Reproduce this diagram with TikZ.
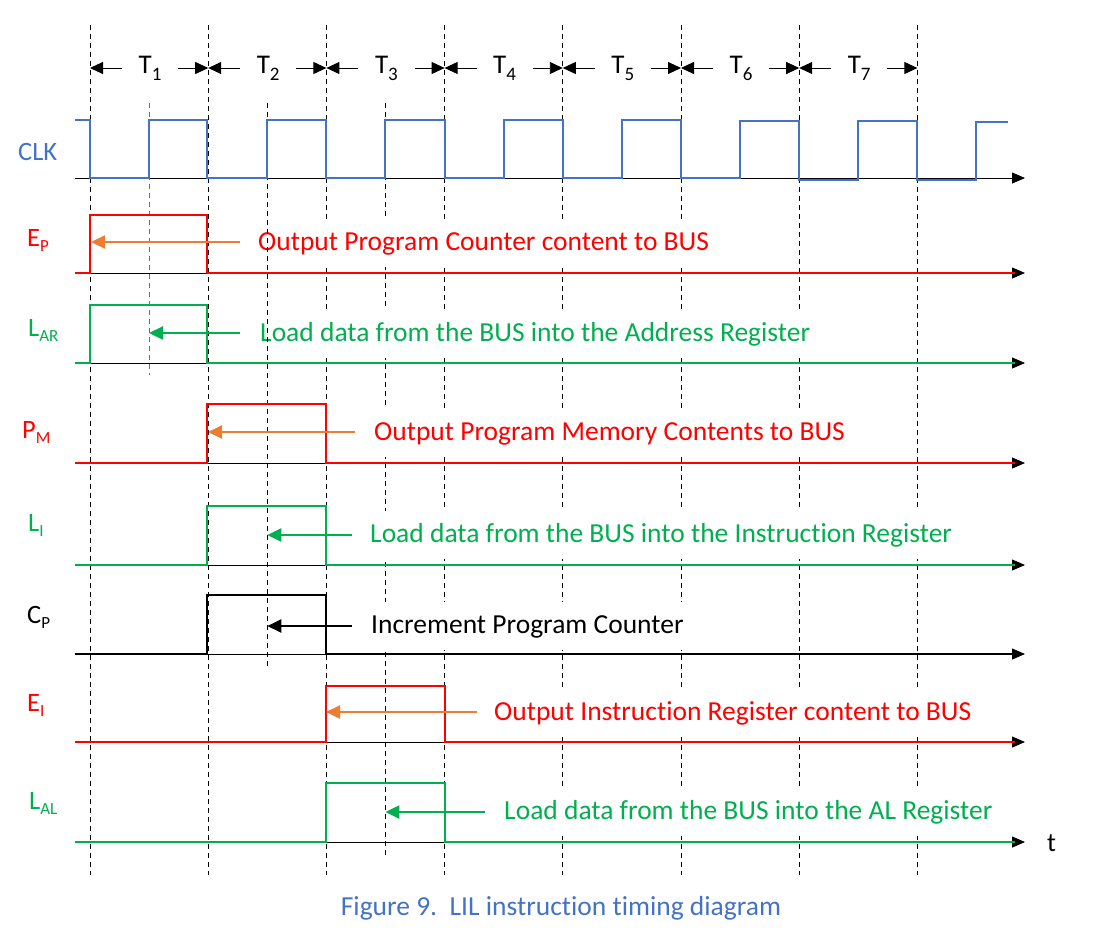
\documentclass[tikz,border=0pt]{standalone}
\usepackage{fontspec}
\setmainfont{Carlito}[Ligatures=NoCommon]
\usetikzlibrary{arrows.meta}
\definecolor{cblue}{HTML}{4472C4}
\definecolor{cred}{HTML}{FF0000}
\definecolor{cgreen}{HTML}{00B050}
\definecolor{corange}{HTML}{ED7D31}
\newcommand\sub[1]{\raisebox{-5pt}{\fontsize{17}{17}\selectfont #1}}
\newcommand\tsub[1]{\raisebox{-7pt}{\fontsize{19}{19}\selectfont #1}}
\begin{document}
\begin{tikzpicture}[x=1pt,y=-1pt,
  sig/.style={line width=2pt, line join=miter},
  axisline/.style={line width=0.8pt, -{Triangle[length=13pt,width=11pt]}},
  gridline/.style={line width=0.8pt, dash pattern=on 5pt off 4pt},
  ptr/.style={line width=2.2pt, -{Triangle[length=14pt,width=13pt]}},
  dim/.style={line width=0.9pt, -{Triangle[length=13pt,width=12pt]}},
  txt/.style={anchor=west, fill=white, inner xsep=1pt, inner ysep=11pt, text height=20pt, text depth=6pt, font=\fontsize{27.5}{32}\selectfont},
  lbl/.style={anchor=west, inner sep=0pt, font=\fontsize{26.5}{30}\selectfont},
  tl/.style={inner sep=0pt, font=\fontsize{27}{30}\selectfont}]
\useasboundingbox (0,0) rectangle (1105,938);

% main vertical dashed lines
\foreach \i in {0,...,7}{
  \draw[gridline] ({90+118.2*\i},25) -- ({90+118.2*\i},875);
}
% mid-period dashed lines
\draw[gridline, cblue, line width=1pt] (149,103) -- (149,375);
\draw[gridline] (385.4,103) -- (385.4,855);

% message texts (white background hides the dashed lines)
\node[txt, text=cred] (tep) at (257,243) {Output Program Counter content to BUS};
\node[txt, text=cgreen] (tar) at (259,334) {Load data from the BUS into the Address Register};
\node[txt, text=cred] (tpm) at (373,433) {Output Program Memory Contents to BUS};
\node[txt, text=cgreen] (tli) at (369,535) {Load data from the BUS into the Instruction Register};
\node[txt, text=black] (tcp) at (370,626) {Increment Program Counter};
\node[txt, text=cred] (tei) at (493,713) {Output Instruction Register content to BUS};
\node[txt, text=cgreen] (tal) at (503,812) {Load data from the BUS into the AL Register};

\draw[gridline] (267.3,103) -- (267.3,668);

% period markers
\foreach \i in {1,...,7}{
  \pgfmathsetmacro\xa{90+118.2*(\i-1)}
  \pgfmathsetmacro\xb{90+118.2*\i}
  \coordinate (pa\i) at (\xa,68);
  \coordinate (pb\i) at (\xb,68);
  \draw[dim] ([xshift=32pt]pa\i) -- (pa\i);
  \draw[dim] ([xshift=-30pt]pb\i) -- (pb\i);
  \node[tl] (T\i) at ([xshift=60pt]pa\i) {T\tsub{\i}};
}

% axes
\foreach \y in {178,273,363,463,565,654,742,842}{
  \draw[axisline] (75,\y) -- (1025,\y);
}

% CLK
\node[lbl, text=cblue] (lclk) at (18,152) {CLK};
\draw[sig, cblue] (75,120) -- (90,120) -- (90,178) -- (149,178) -- (149,120) -- (207.4,120) -- (207.4,178)
  -- (267.3,178) -- (267.3,120) -- (325.6,120) -- (325.6,178) -- (385.4,178) -- (385.4,120) -- (444.5,120) -- (444.5,178)
  -- (503.6,178) -- (503.6,120) -- (562.8,120) -- (562.8,178) -- (621.7,178) -- (621.7,120) -- (681,120) -- (681,178)
  -- (739.9,178) -- (739.9,121) -- (799.2,121) -- (799.2,180) -- (858,180) -- (858,121) -- (917.4,121) -- (917.4,180)
  -- (976.2,180) -- (976.2,122) -- (1008,122);

% E_P
\node[lbl, text=cred] (lep) at (27,240) {E\sub{P}};
\draw[sig, cred] (75,273) -- (90,273) -- (90,215) -- (207.4,215) -- (207.4,273) -- (1015,273);
\coordinate (aep) at (240,242); \coordinate (bep) at (91,242);
\draw[ptr, corange] (aep) -- (bep);

% L_AR
\node[lbl, text=cgreen] (lar) at (28,330) {L\sub{AR}};
\draw[sig, cgreen] (75,363) -- (90,363) -- (90,305) -- (207.4,305) -- (207.4,363) -- (1015,363);
\coordinate (aar) at (240,333); \coordinate (bar) at (149,333);
\draw[ptr, cgreen] (aar) -- (bar);

% P_M
\node[lbl, text=cred] (lpm) at (22,432) {P\sub{M}};
\draw[sig, cred] (75,463) -- (207.4,463) -- (207.4,404) -- (325.6,404) -- (325.6,463) -- (1015,463);
\coordinate (apm) at (355,432); \coordinate (bpm) at (208,432);
\draw[ptr, corange] (apm) -- (bpm);

% L_I
\node[lbl, text=cgreen] (lli) at (28,525) {L\sub{I}};
\draw[sig, cgreen] (75,565) -- (207.4,565) -- (207.4,506) -- (325.6,506) -- (325.6,565) -- (1015,565);
\coordinate (ali) at (352,535); \coordinate (bli) at (267.3,535);
\draw[ptr, cgreen] (ali) -- (bli);

% C_P
\node[lbl, text=black] (lcp) at (27,617) {C\sub{P}};
\draw[sig, black] (75,654) -- (207.4,654) -- (207.4,595) -- (325.6,595) -- (325.6,654) -- (1015,654);
\coordinate (acp) at (352,626); \coordinate (bcp) at (267.3,626);
\draw[ptr, black] (acp) -- (bcp);

% E_I
\node[lbl, text=cred] (lei) at (27,705) {E\sub{I}};
\draw[sig, cred] (75,742) -- (325.6,742) -- (325.6,686) -- (444.5,686) -- (444.5,742) -- (1015,742);
\coordinate (aei) at (477,712); \coordinate (bei) at (326,712);
\draw[ptr, corange] (aei) -- (bei);

% L_AL
\node[lbl, text=cgreen] (lal) at (29,803) {L\sub{AL}};
\draw[sig, cgreen] (75,842) -- (325.6,842) -- (325.6,783) -- (444.5,783) -- (444.5,842) -- (1015,842);
\coordinate (aal) at (485,812); \coordinate (bal) at (385.4,812);
\draw[ptr, cgreen] (aal) -- (bal);

\node[lbl] (tt) at (1047,843) {t};

\node[inner sep=0pt, text=cblue, font=\fontsize{27.5}{32}\selectfont] (cap) at (561,908) {Figure 9.\ \ LIL instruction timing diagram};
\end{tikzpicture}
\end{document}
